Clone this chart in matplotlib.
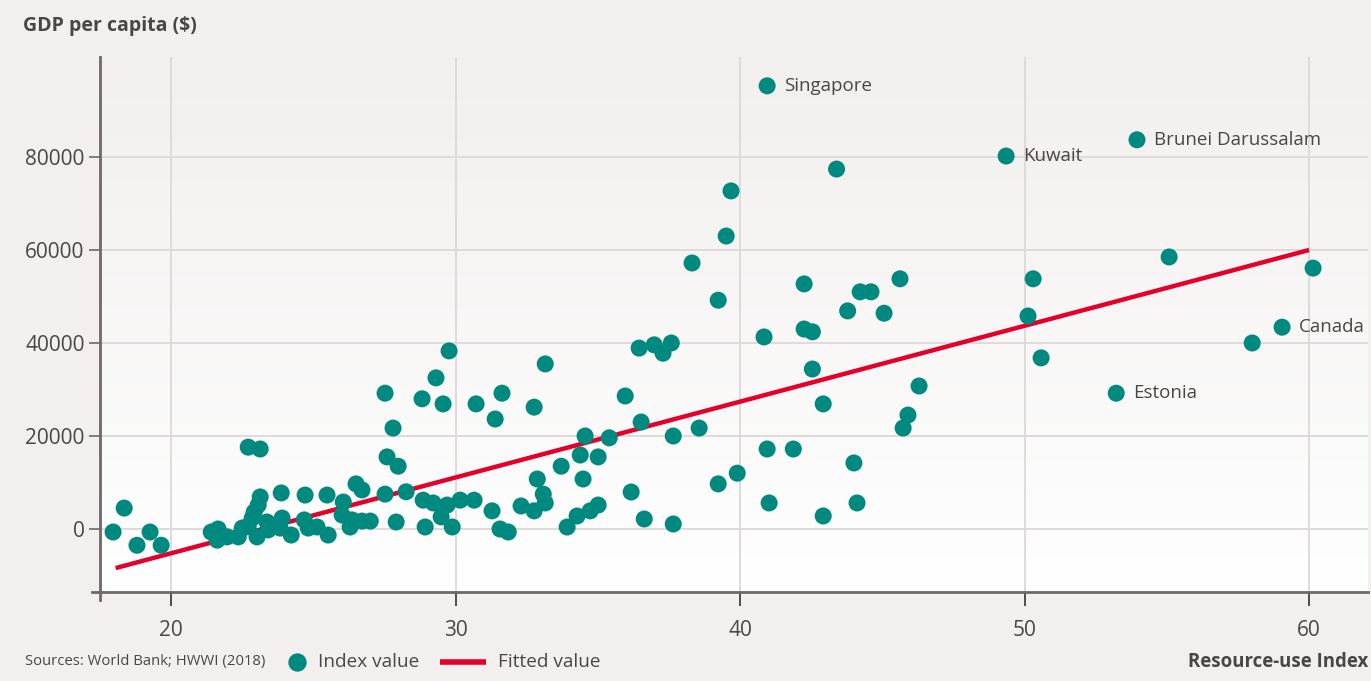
import numpy as np
import matplotlib
matplotlib.use("Agg")
import matplotlib.pyplot as plt
from matplotlib.colors import LinearSegmentedColormap

plt.rcParams['font.family'] = ['Open Sans', 'DejaVu Sans']

# Resource-use index (x) and GDP per capita (y)
resource_index = [
    17.96, 18.35, 18.8, 19.26, 19.65,
    21.41, 21.65, 21.62, 21.97, 22.36, 22.5, 22.71, 22.85, 22.92, 23.06, 23.13,
    23.02, 22.71, 23.13, 23.37, 23.41,
    23.87, 23.9, 23.83, 24.22, 24.71, 24.68, 24.82, 25.13, 25.52, 25.48, 26.05,
    26.01, 26.5, 26.71, 26.36, 26.29, 26.71, 27.0, 27.52, 27.59, 27.52, 27.8,
    27.98, 27.91, 28.26,
    28.82, 29.31, 29.77, 28.86, 29.21, 29.7, 29.49, 28.93, 29.88, 30.16, 30.65,
    30.72, 31.39, 31.28, 31.56, 31.85, 31.63, 29.56, 33.15, 32.76, 34.55, 35.4,
    34.38, 35.01, 33.71, 32.87, 34.48, 33.08, 33.15, 32.3, 32.76, 33.92, 34.27,
    34.73, 35.01, 36.17, 36.63, 37.65, 35.96, 36.45, 36.98, 37.29, 37.58, 36.52,
    37.65, 38.56, 38.31, 39.23, 39.51, 39.68, 39.23, 39.9, 40.95, 41.87, 41.02,
    40.84, 42.25, 42.25, 42.54, 42.54, 42.92, 42.92, 43.39, 43.78, 44.22, 44.6,
    44.0, 44.11, 45.06, 45.62, 46.29, 45.9, 45.73, 50.3, 50.12, 50.58, 55.08,
    60.14, 59.05, 58.0, 53.22, 53.95, 49.35, 40.95,
]
gdp_per_capita = [
    -650, 4500, -3500, -650, -3500,
    -650, 0, -2400, -1700, -1700, 200, 650, 2350, 3650, 5150, 6900,
    -1700, 17600, 17200, 1500, -200,
    7750, 2350, 200, -1300, 7300, 1950, 200, 430, -1300, 7300, 5800,
    3000, 9700, 8400, 1950, 430, 1700, 1700, 7500, 15500, 29200, 21700,
    13500, 1500, 8000,
    28000, 32500, 38300, 6200, 5600, 5150, 2600, 430, 430, 6200, 6200,
    26900, 23650, 3900, 0, -650, 29200, 26900, 35500, 26200, 20000, 19600,
    15900, 15500, 13500, 10750, 10750, 7500, 5600, 4950, 3900, 430, 2800,
    3900, 5150, 7950, 2150, 1075, 28600, 38900, 39600, 37800, 40000, 23000,
    20000, 21700, 57200, 49200, 63000, 72700, 9700, 12000, 17200, 17200, 5600,
    41300, 52700, 43000, 42400, 34400, 26900, 2800, 77400, 46900, 51000, 51000,
    14200, 5600, 46400, 53800, 30750, 24500, 21700, 53800, 45800, 36800, 58500,
    56100, 43400, 40000, 29200, 83700, 80200, 95300,
]

# fitted regression line end points
fit_x = [18.05, 60.0]
fit_y = [-8400, 60000]

labeled_names = ['Singapore', 'Kuwait', 'Brunei Darussalam', 'Canada', 'Estonia']
labeled_x = [40.95, 49.35, 53.95, 59.05, 53.22]
labeled_y = [95300, 80200, 83700, 43400, 29200]

x_ticks = [20, 30, 40, 50, 60]
y_ticks = [0, 20000, 40000, 60000, 80000]

bg = '#f2efee'
teal = '#00897f'
red = '#e3002b'
text_col = '#4a4646'
spine_col = '#6e6868'
grid_col = '#dcd8d7'

W, H = 1371, 681
fig = plt.figure(figsize=(W / 100, H / 100), dpi=100, facecolor=bg)
ax = fig.add_axes([100 / W, 1 - 592 / H, 1268 / W, 535 / H])
ax.set_facecolor('white')
ax.set_xlim(17.5, 62.07)
ax.set_ylim(-13550, 101500)

# vertical gradient: background colour at top, white at bottom
cmap = LinearSegmentedColormap.from_list('bgfade', ['white', bg])
grad = np.linspace(0, 1, 256).reshape(-1, 1)
ax.imshow(grad, cmap=cmap, origin='lower', aspect='auto',
          extent=[0, 1, 0, 1], transform=ax.transAxes, zorder=0)

for s in ax.spines.values():
    s.set_visible(False)

ax.set_xticks(x_ticks)
ax.set_yticks(y_ticks)
ax.set_xticklabels([str(v) for v in x_ticks])
ax.set_yticklabels([str(v) for v in y_ticks])
ax.tick_params(axis='x', length=10, width=1.2, color='#333333', pad=10,
               labelsize=15, labelcolor=text_col)
ax.tick_params(axis='y', length=8, width=1.2, color=spine_col, pad=3,
               labelsize=15, labelcolor=text_col)
ax.grid(True, color=grid_col, linewidth=1.3, zorder=1)
ax.set_axisbelow(True)

# spines drawn by hand so they overhang a little like the original
ax.plot([-0.006, 1], [0, 0], transform=ax.transAxes, color=spine_col,
        lw=2, clip_on=False, zorder=5)
ax.plot([0, 0], [-0.015, 1], transform=ax.transAxes, color=spine_col,
        lw=2, clip_on=False, zorder=5)

ax.plot(fit_x, fit_y, color=red, lw=3.2, zorder=3, solid_capstyle='butt')
ax.scatter(resource_index, gdp_per_capita, s=150, color=teal,
           edgecolors='none', zorder=4)

for name, lx, ly in zip(labeled_names, labeled_x, labeled_y):
    ax.annotate(name, (lx, ly), xytext=(12, 0), textcoords='offset points',
                va='center', ha='left', fontsize=13.5, color=text_col)

fig.text(23 / W, 1 - 26 / H, 'GDP per capita ($)', fontsize=14,
         fontweight='bold', color=text_col, va='center', ha='left')
fig.text(1368 / W, 1 - 662 / H, 'Resource-use Index', fontsize=13.4,
         fontweight='bold', color=text_col, va='center', ha='right')
fig.text(25 / W, 1 - 662 / H, 'Sources: World Bank; HWWI (2018)',
         fontsize=10.7, color=text_col, va='center', ha='left')

# legend drawn by hand
ly = 1 - 662 / H
fig.add_artist(plt.Line2D([297 / W], [ly], marker='o', markersize=12.2,
                          color=teal, linestyle='none'))
fig.text(318 / W, ly, 'Index value', fontsize=13.7, color=text_col,
         va='center', ha='left')
fig.add_artist(plt.Line2D([440 / W, 486 / W], [ly, ly], color=red, lw=4,
                          solid_capstyle='butt'))
fig.text(498 / W, ly, 'Fitted value', fontsize=13.7, color=text_col,
         va='center', ha='left')

fig.savefig('out.png', dpi=100, facecolor=bg)
